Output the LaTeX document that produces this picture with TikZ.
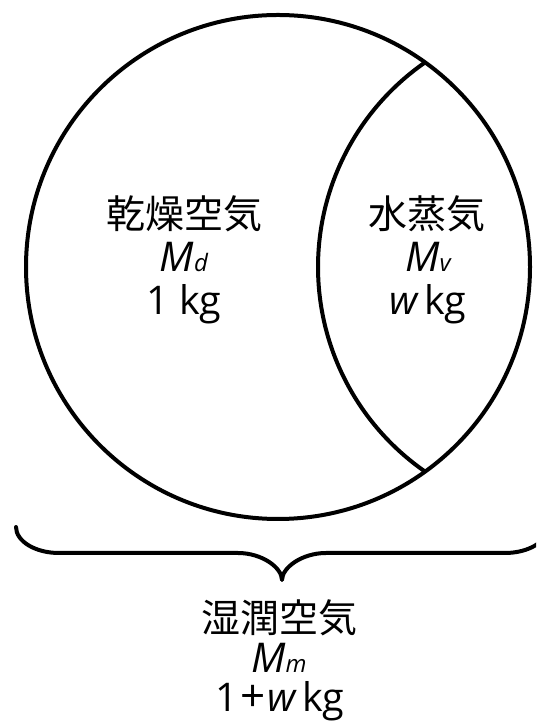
\documentclass[tikz,border=0pt]{standalone}
\usepackage{fontspec}
\setmainfont{Open Sans}
\newfontfamily\cjk{Noto Sans CJK JP}
\newcommand{\bigM}{{\fontsize{41}{41}\selectfont\itshape M}}
\newcommand{\subtxt}[1]{{\fontsize{24}{24}\selectfont\itshape #1}}
\newcommand{\bigplus}{\hspace{0.05em}{\fontsize{44}{44}\selectfont +}\hspace{0.05em}}
\begin{document}
\begin{tikzpicture}[x=1pt,y=1pt,
  outline/.style={line width=4pt, line join=round},
  lbl/.style={inner sep=0pt, anchor=base, font=\fontsize{39.5}{40}\selectfont},
  jlbl/.style={inner sep=0pt, anchor=base, font=\cjk\fontsize{39}{40}\selectfont}]
\useasboundingbox (0,0) rectangle (536,725);
\fill[white] (0,0) rectangle (536,725);
\clip (0,0) rectangle (536,725);
% whole moist air circle
\draw[outline] (278,458) circle[radius=252];
% boundary between dry air and vapour
\draw[outline] (567,458) ++(124.74:249) arc[start angle=124.74,end angle=235.26,radius=249];
% brace
\draw[outline, line cap=round] (16,198) .. controls (16,183.7) and (35.3,172) .. (59,172)
  -- (238,172) .. controls (262.2,172) and (282,157.2) .. (282,145)
  .. controls (282,157.2) and (301.8,172) .. (326,172)
  -- (505,172) .. controls (528.7,172) and (548,183.7) .. (548,198);
% labels
\node[jlbl] (dry) at (184,496) {乾燥空気};
\node[lbl] (drym) at (184,453) {\bigM\subtxt{d}};
\node[lbl] (drykg) at (184,410) {1 kg};
\node[jlbl] (vap) at (427,496) {水蒸気};
\node[lbl] (vapm) at (428,453) {\bigM\subtxt{v}};
\node[lbl] (vapkg) at (428,410) {{\itshape w}\,kg};
\node[jlbl] (moist) at (279,92) {湿潤空気};
\node[lbl] (moistm) at (279,52) {\bigM\subtxt{m}};
\node[lbl] (moistkg) at (280,13) {1\bigplus{\itshape w}\,kg};
\end{tikzpicture}
\end{document}
